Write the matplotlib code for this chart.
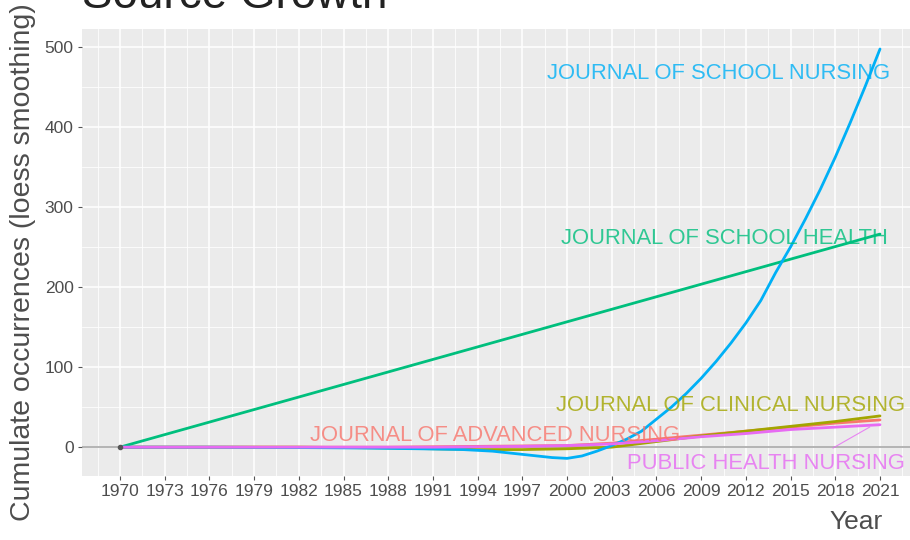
import numpy as np
import matplotlib
matplotlib.use("Agg")
import matplotlib.pyplot as plt
from matplotlib.ticker import FixedLocator

# Data (loess-smoothed cumulative counts)
years_tick = [1970, 1973, 1976, 1979, 1982, 1985, 1988, 1991, 1994, 1997,
              2000, 2003, 2006, 2009, 2012, 2015, 2018, 2021]
y_ticks = [0, 100, 200, 300, 400, 500]

adv_years = [1970, 1976, 1982, 1988, 1991, 1994, 1997, 2000, 2003, 2006, 2009, 2012, 2015, 2018, 2021]
adv_vals = [0, 0, 0, 0, 0.5, 1, 1.5, 2, 5, 10, 15, 20, 25, 30, 34]

clin_years = [1970, 1976, 1982, 1988, 1991, 1994, 1997, 2000, 2003, 2006, 2009, 2012, 2015, 2018, 2021]
clin_vals = [0, 0, 0, -1, -2, -3, -3, -2, 0, 7, 14, 20, 26, 32, 39]

health_years = [1970, 2021]
health_vals = [0, 266]

sn_years = [1970, 1976, 1982, 1986, 1990, 1993, 1995, 1997, 1998, 1999, 2000, 2001, 2002,
            2003, 2004, 2005, 2006, 2007, 2008, 2009, 2010, 2011, 2012, 2013, 2014,
            2015, 2016, 2017, 2018, 2019, 2020, 2021]
sn_vals = [0, 0, -0.5, -1, -2, -3, -5, -9, -11, -13, -14, -11, -5,
           2, 10, 20, 35, 50, 67, 86, 107, 130, 155, 183, 218,
           250, 285, 322, 362, 405, 450, 497]

phn_years = [1970, 1976, 1982, 1988, 1991, 1994, 1997, 2000, 2003, 2006, 2009, 2012, 2015, 2018, 2021]
phn_vals = [0, 0, 0, 0, 0, 0.5, 1, 2, 4, 8, 13, 17, 22, 25, 28]

series = [
    ("JOURNAL OF ADVANCED NURSING", adv_years, adv_vals, "#F8766D"),
    ("JOURNAL OF CLINICAL NURSING", clin_years, clin_vals, "#A3A500"),
    ("JOURNAL OF SCHOOL HEALTH", health_years, health_vals, "#00BF7D"),
    ("JOURNAL OF SCHOOL NURSING", sn_years, sn_vals, "#00B0F6"),
    ("PUBLIC HEALTH NURSING", phn_years, phn_vals, "#E76BF3"),
]

# label anchor points (data coords) as placed by ggrepel in the picture
label_pos = {
    "JOURNAL OF SCHOOL NURSING": (2021.7, 467, "right"),
    "JOURNAL OF SCHOOL HEALTH": (2021.5, 261, "right"),
    "JOURNAL OF CLINICAL NURSING": (2022.7, 52, "right"),
    "JOURNAL OF ADVANCED NURSING": (1982.75, 15, "left"),
    "PUBLIC HEALTH NURSING": (2022.7, -21, "right"),
}

W, H = 910, 540
fig = plt.figure(figsize=(W / 100, H / 100), dpi=100)
fig.patch.set_facecolor("white")

# panel: 1970 -> x=120 px, 2021 -> x=880 px ; y 0 -> 447 px, 500 -> 48 px
xlim = (1967.45, 2023.55)
ppy = 760 / 51
left_px = 120 - (1970 - xlim[0]) * ppy
width_px = (xlim[1] - xlim[0]) * ppy
ylim = (-36, 522)
top_px, bot_px = 29, 476
ax = fig.add_axes([left_px / W, (H - bot_px) / H, width_px / W, (bot_px - top_px) / H])
ax.set_xlim(*xlim)
ax.set_ylim(*ylim)
ax.set_facecolor("#EBEBEB")
for sp in ax.spines.values():
    sp.set_visible(False)

ax.xaxis.set_major_locator(FixedLocator(years_tick))
ax.xaxis.set_minor_locator(FixedLocator([y + 1.5 for y in [1967] + years_tick]))
ax.yaxis.set_major_locator(FixedLocator(y_ticks))
ax.yaxis.set_minor_locator(FixedLocator([-50, 50, 150, 250, 350, 450, 550]))
ax.grid(which="major", color="white", linewidth=1.1)
ax.grid(which="minor", color="white", linewidth=0.55)
ax.set_axisbelow(True)

tick_font = ["Liberation Sans Narrow", "Liberation Sans", "DejaVu Sans"]
ax.tick_params(which="major", length=3, color="#555555", labelcolor="#4D4D4D",
               labelsize=12.5, pad=3)
ax.tick_params(which="minor", length=0)
ax.set_xticks(years_tick)
ax.set_xticklabels([str(y) for y in years_tick], family=tick_font)
ax.set_yticks(y_ticks)
ax.set_yticklabels([str(v) for v in y_ticks], family=tick_font)

ax.axhline(0, color="#A0A0A0", linewidth=1.1, zorder=1)

for name, xs, ys, col in series:
    ax.plot(xs, ys, color=col, linewidth=2.0, zorder=2, solid_capstyle="round")
ax.plot([1970], [0], "o", color="#555555", markersize=3, zorder=3)

lab_font = ["Liberation Sans", "DejaVu Sans"]
for name, xs, ys, col in series:
    lx, ly, ha = label_pos[name]
    ax.text(lx, ly, name, color=col, alpha=0.8, fontsize=15.8, ha=ha, va="center",
            family=lab_font, zorder=4, clip_on=False)

# repel segment for the public health label
ax.plot([2017.85, 2020.3], [-1, 25], color="#E76BF3", linewidth=0.8, alpha=0.8, zorder=4)

fig.text(82 / W, 1 - 8 / H, "Source Growth", fontsize=33, color="#222222",
         family=lab_font, ha="left", va="baseline")
fig.text(23 / W, 1 - 262 / H, "Cumulate occurrences (loess smoothing)", fontsize=20.5,
         color="#4D4D4D", rotation=90, ha="center", va="center", family=lab_font)
fig.text(883 / W, 1 - 522 / H, "Year", fontsize=19, color="#4D4D4D",
         ha="right", va="center", family=lab_font)

fig.savefig("out.png", dpi=100)
